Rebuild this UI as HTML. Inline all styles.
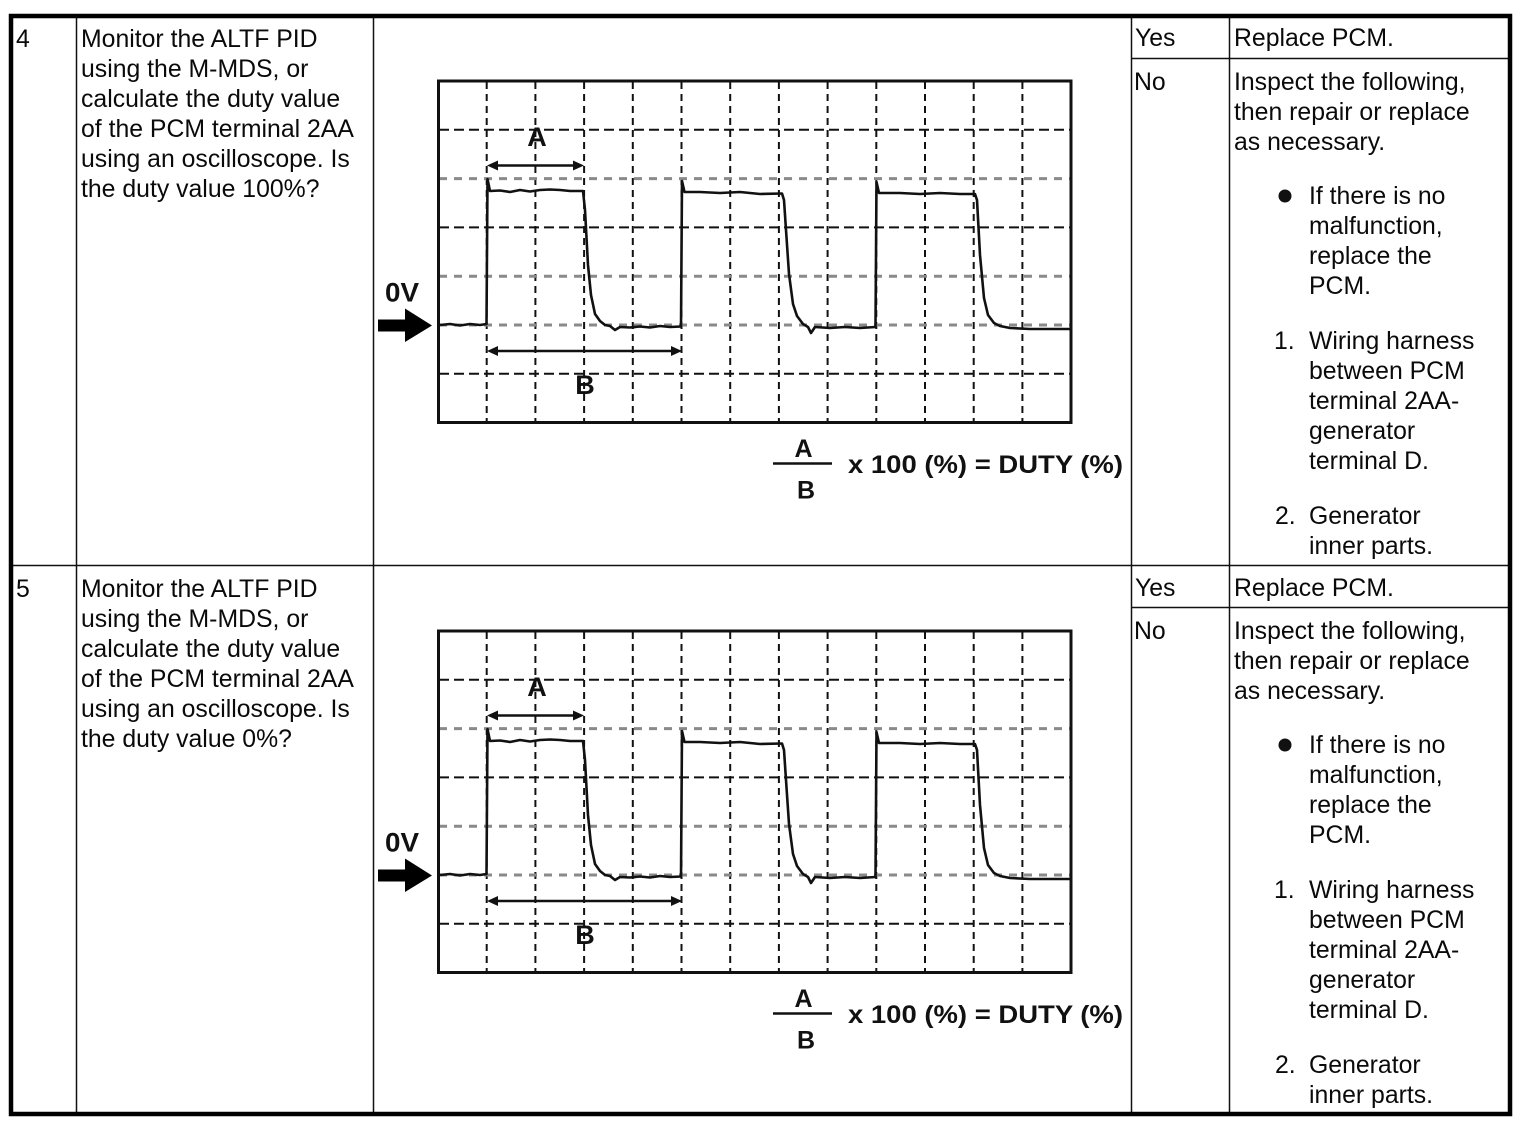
<!DOCTYPE html>
<html><head><meta charset="utf-8"><style>
html,body{margin:0;padding:0;background:#fff;}
svg{display:block;}
.t{font-family:"Liberation Sans",Arial,sans-serif;font-size:24.8px;fill:#0a0a0a;}
.b{font-family:"Liberation Sans",Arial,sans-serif;font-weight:bold;fill:#111;}
</style></head><body>
<svg width="1526" height="1126" viewBox="0 0 1526 1126" xmlns="http://www.w3.org/2000/svg">
<rect x="0" y="0" width="1526" height="1126" fill="#fff"/>
<g stroke="#111" fill="none">
<line x1="76.5" y1="16" x2="76.5" y2="1114" stroke-width="1.5"/>
<line x1="373.5" y1="16" x2="373.5" y2="1114" stroke-width="1.5"/>
<line x1="1131.5" y1="16" x2="1131.5" y2="1114" stroke-width="1.5"/>
<line x1="1229.5" y1="16" x2="1229.5" y2="1114" stroke-width="1.5"/>
<line x1="11" y1="565.5" x2="1510" y2="565.5" stroke-width="1.5"/>
<line x1="1131" y1="58.5" x2="1510" y2="58.5" stroke-width="1.5"/>
<line x1="1131" y1="607.5" x2="1510" y2="607.5" stroke-width="1.5"/>
<rect x="11" y="16" width="1499" height="1098" stroke-width="4.5" stroke="#000"/>
</g>

<text class="t" x="16" y="47">4</text>
<text class="t" x="81" y="47">Monitor the ALTF PID</text>
<text class="t" x="81" y="77">using the M-MDS, or</text>
<text class="t" x="81" y="107">calculate the duty value</text>
<text class="t" x="81" y="137">of the PCM terminal 2AA</text>
<text class="t" x="81" y="167">using an oscilloscope. Is</text>
<text class="t" x="81" y="197">the duty value 100%?</text>
<text class="t" x="1135" y="46">Yes</text>
<text class="t" x="1234" y="46">Replace PCM.</text>
<text class="t" x="1134" y="90">No</text>
<text class="t" x="1234" y="90">Inspect the following,</text>
<text class="t" x="1234" y="120">then repair or replace</text>
<text class="t" x="1234" y="150">as necessary.</text>
<circle cx="1285" cy="196" r="6.5" fill="#111"/>
<text class="t" x="1309" y="204">If there is no</text>
<text class="t" x="1309" y="234">malfunction,</text>
<text class="t" x="1309" y="264">replace the</text>
<text class="t" x="1309" y="294">PCM.</text>
<text class="t" x="1274" y="349">1.</text>
<text class="t" x="1309" y="349">Wiring harness</text>
<text class="t" x="1309" y="379">between PCM</text>
<text class="t" x="1309" y="409">terminal 2AA-</text>
<text class="t" x="1309" y="439">generator</text>
<text class="t" x="1309" y="469">terminal D.</text>
<text class="t" x="1275" y="524">2.</text>
<text class="t" x="1309" y="524">Generator</text>
<text class="t" x="1309" y="554">inner parts.</text>

<text class="t" x="16" y="597">5</text>
<text class="t" x="81" y="597">Monitor the ALTF PID</text>
<text class="t" x="81" y="627">using the M-MDS, or</text>
<text class="t" x="81" y="657">calculate the duty value</text>
<text class="t" x="81" y="687">of the PCM terminal 2AA</text>
<text class="t" x="81" y="717">using an oscilloscope. Is</text>
<text class="t" x="81" y="747">the duty value 0%?</text>
<text class="t" x="1135" y="596">Yes</text>
<text class="t" x="1234" y="596">Replace PCM.</text>
<text class="t" x="1134" y="639">No</text>
<text class="t" x="1234" y="639">Inspect the following,</text>
<text class="t" x="1234" y="669">then repair or replace</text>
<text class="t" x="1234" y="699">as necessary.</text>
<circle cx="1285" cy="745" r="6.5" fill="#111"/>
<text class="t" x="1309" y="753">If there is no</text>
<text class="t" x="1309" y="783">malfunction,</text>
<text class="t" x="1309" y="813">replace the</text>
<text class="t" x="1309" y="843">PCM.</text>
<text class="t" x="1274" y="898">1.</text>
<text class="t" x="1309" y="898">Wiring harness</text>
<text class="t" x="1309" y="928">between PCM</text>
<text class="t" x="1309" y="958">terminal 2AA-</text>
<text class="t" x="1309" y="988">generator</text>
<text class="t" x="1309" y="1018">terminal D.</text>
<text class="t" x="1275" y="1073">2.</text>
<text class="t" x="1309" y="1073">Generator</text>
<text class="t" x="1309" y="1103">inner parts.</text>

<g>
<g stroke="#111" stroke-width="2" stroke-dasharray="7 5" fill="none">
<line x1="486.7" y1="82" x2="486.7" y2="421"/>
<line x1="535.4" y1="82" x2="535.4" y2="421"/>
<line x1="584.1" y1="82" x2="584.1" y2="421"/>
<line x1="632.8" y1="82" x2="632.8" y2="421"/>
<line x1="681.5" y1="82" x2="681.5" y2="421"/>
<line x1="730.2" y1="82" x2="730.2" y2="421"/>
<line x1="778.9" y1="82" x2="778.9" y2="421"/>
<line x1="827.6" y1="82" x2="827.6" y2="421"/>
<line x1="876.3" y1="82" x2="876.3" y2="421"/>
<line x1="925" y1="82" x2="925" y2="421"/>
<line x1="973.7" y1="82" x2="973.7" y2="421"/>
<line x1="1022.4" y1="82" x2="1022.4" y2="421"/>
</g>
<g stroke="#111" stroke-width="2" stroke-dasharray="10 5" fill="none">
<line x1="439" y1="129.8" x2="1070" y2="129.8"/>
<line x1="439" y1="227.4" x2="1070" y2="227.4"/>
<line x1="439" y1="373.8" x2="1070" y2="373.8"/>
</g>
<g stroke="#8a8a8a" stroke-width="3" stroke-dasharray="8 7" fill="none">
<line x1="439" y1="178.6" x2="1070" y2="178.6"/>
<line x1="439" y1="276.2" x2="1070" y2="276.2"/>
<line x1="439" y1="325" x2="1070" y2="325"/>
</g>
<rect x="438.5" y="81" width="632.5" height="341.5" fill="none" stroke="#111" stroke-width="3"/>
<path fill="none" stroke="#111" stroke-width="2.6" stroke-linejoin="round" d="M440,325 L450,324 L460,325.5 L470,324 L480,325 L486.5,324 L487.5,179 L490,191 L500,190.5 L510,192 L520,190 L530,191.5 L540,190 L550,189.5 L560,190 L570,191 L583,191 L585,210 L588,265 L591,295 L595,314 L600,321 L605,325 L610,326 L615,330 L620,327 L630,327.5 L640,326.5 L650,327.5 L660,326 L670,327 L681,326.5 L682,181 L684.5,192 L700,192 L720,193 L740,192 L760,194 L782,193.5 L784,200 L786,230 L789,274 L793,304 L797,316 L803,324 L808,327 L811,333 L815,327 L830,328 L845,327 L860,328 L875.5,327 L876.5,182 L879,193 L900,193 L920,194 L940,193 L960,194 L975,194 L977,200 L980,255 L984,298 L988,315 L994,323 L1000,326 L1010,328 L1030,329 L1050,329 L1071,329"/>
<line x1="494" y1="165.5" x2="577" y2="165.5" stroke="#111" stroke-width="2.5"/>
<polygon points="487,165.5 498,160.5 498,170.5" fill="#111"/>
<polygon points="584,165.5 573,160.5 573,170.5" fill="#111"/>
<line x1="494" y1="351" x2="675" y2="351" stroke="#111" stroke-width="2.5"/>
<polygon points="487,351 498,346 498,356" fill="#111"/>
<polygon points="682,351 671,346 671,356" fill="#111"/>
<text class="b" x="537" y="146" font-size="27" text-anchor="middle">A</text>
<text class="b" x="585" y="394" font-size="27" text-anchor="middle">B</text>
<text class="b" x="385" y="301.5" font-size="27" textLength="34" lengthAdjust="spacingAndGlyphs">0V</text>
<rect x="378" y="319.5" width="28" height="12" fill="#000"/>
<polygon points="405,308.5 432,325.5 405,342" fill="#000"/>
<text class="b" x="803.5" y="457" font-size="25" text-anchor="middle">A</text>
<line x1="773" y1="463.5" x2="832" y2="463.5" stroke="#111" stroke-width="2.6"/>
<text class="b" x="806" y="498.5" font-size="25" text-anchor="middle">B</text>
<text class="b" x="848" y="473" font-size="25" textLength="275" lengthAdjust="spacingAndGlyphs">x 100 (%) = DUTY (%)</text>
</g>

<g transform="translate(0,550)">
<g stroke="#111" stroke-width="2" stroke-dasharray="7 5" fill="none">
<line x1="486.7" y1="82" x2="486.7" y2="421"/>
<line x1="535.4" y1="82" x2="535.4" y2="421"/>
<line x1="584.1" y1="82" x2="584.1" y2="421"/>
<line x1="632.8" y1="82" x2="632.8" y2="421"/>
<line x1="681.5" y1="82" x2="681.5" y2="421"/>
<line x1="730.2" y1="82" x2="730.2" y2="421"/>
<line x1="778.9" y1="82" x2="778.9" y2="421"/>
<line x1="827.6" y1="82" x2="827.6" y2="421"/>
<line x1="876.3" y1="82" x2="876.3" y2="421"/>
<line x1="925" y1="82" x2="925" y2="421"/>
<line x1="973.7" y1="82" x2="973.7" y2="421"/>
<line x1="1022.4" y1="82" x2="1022.4" y2="421"/>
</g>
<g stroke="#111" stroke-width="2" stroke-dasharray="10 5" fill="none">
<line x1="439" y1="129.8" x2="1070" y2="129.8"/>
<line x1="439" y1="227.4" x2="1070" y2="227.4"/>
<line x1="439" y1="373.8" x2="1070" y2="373.8"/>
</g>
<g stroke="#8a8a8a" stroke-width="3" stroke-dasharray="8 7" fill="none">
<line x1="439" y1="178.6" x2="1070" y2="178.6"/>
<line x1="439" y1="276.2" x2="1070" y2="276.2"/>
<line x1="439" y1="325" x2="1070" y2="325"/>
</g>
<rect x="438.5" y="81" width="632.5" height="341.5" fill="none" stroke="#111" stroke-width="3"/>
<path fill="none" stroke="#111" stroke-width="2.6" stroke-linejoin="round" d="M440,325 L450,324 L460,325.5 L470,324 L480,325 L486.5,324 L487.5,179 L490,191 L500,190.5 L510,192 L520,190 L530,191.5 L540,190 L550,189.5 L560,190 L570,191 L583,191 L585,210 L588,265 L591,295 L595,314 L600,321 L605,325 L610,326 L615,330 L620,327 L630,327.5 L640,326.5 L650,327.5 L660,326 L670,327 L681,326.5 L682,181 L684.5,192 L700,192 L720,193 L740,192 L760,194 L782,193.5 L784,200 L786,230 L789,274 L793,304 L797,316 L803,324 L808,327 L811,333 L815,327 L830,328 L845,327 L860,328 L875.5,327 L876.5,182 L879,193 L900,193 L920,194 L940,193 L960,194 L975,194 L977,200 L980,255 L984,298 L988,315 L994,323 L1000,326 L1010,328 L1030,329 L1050,329 L1071,329"/>
<line x1="494" y1="165.5" x2="577" y2="165.5" stroke="#111" stroke-width="2.5"/>
<polygon points="487,165.5 498,160.5 498,170.5" fill="#111"/>
<polygon points="584,165.5 573,160.5 573,170.5" fill="#111"/>
<line x1="494" y1="351" x2="675" y2="351" stroke="#111" stroke-width="2.5"/>
<polygon points="487,351 498,346 498,356" fill="#111"/>
<polygon points="682,351 671,346 671,356" fill="#111"/>
<text class="b" x="537" y="146" font-size="27" text-anchor="middle">A</text>
<text class="b" x="585" y="394" font-size="27" text-anchor="middle">B</text>
<text class="b" x="385" y="301.5" font-size="27" textLength="34" lengthAdjust="spacingAndGlyphs">0V</text>
<rect x="378" y="319.5" width="28" height="12" fill="#000"/>
<polygon points="405,308.5 432,325.5 405,342" fill="#000"/>
<text class="b" x="803.5" y="457" font-size="25" text-anchor="middle">A</text>
<line x1="773" y1="463.5" x2="832" y2="463.5" stroke="#111" stroke-width="2.6"/>
<text class="b" x="806" y="498.5" font-size="25" text-anchor="middle">B</text>
<text class="b" x="848" y="473" font-size="25" textLength="275" lengthAdjust="spacingAndGlyphs">x 100 (%) = DUTY (%)</text>
</g>
</svg>
</body></html>
